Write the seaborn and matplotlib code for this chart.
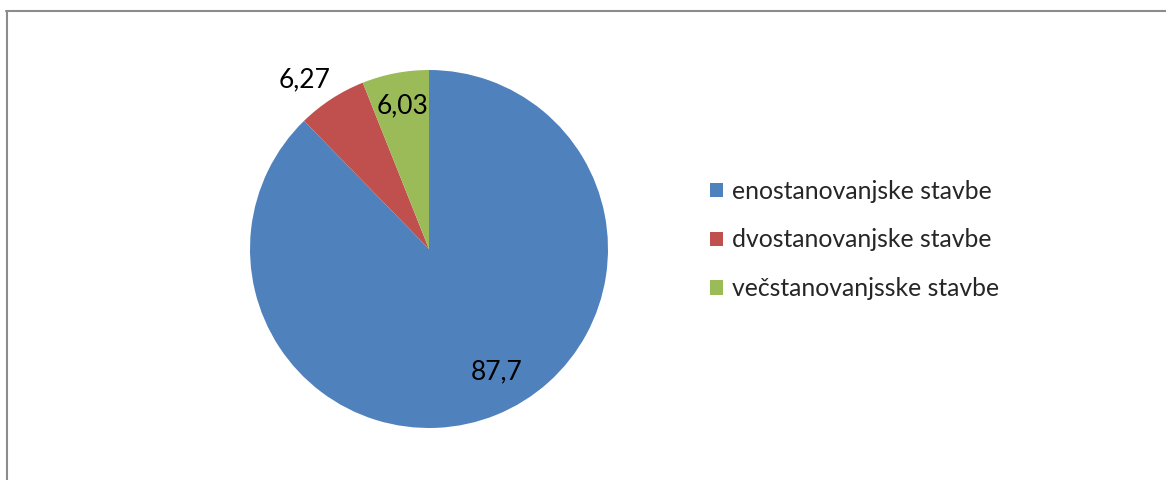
import matplotlib
matplotlib.use("Agg")
import matplotlib.pyplot as plt
from matplotlib.lines import Line2D
import seaborn as sns

# podatki
categories = ["enostanovanjske stavbe", "dvostanovanjske stavbe", "večstanovanjsske stavbe"]
values = [87.7, 6.27, 6.03]
value_labels = ["87,7", "6,27", "6,03"]
colors = ["#4F81BD", "#C0504D", "#9BBB59"]

sns.set_theme(style="white")
plt.rcParams["font.family"] = ["Lato", "DejaVu Sans"]

fig = plt.figure(figsize=(11.66, 4.8), dpi=100)
ax = fig.add_axes([250 / 1166, 52 / 480, 358 / 1166, 358 / 480])

wedges, _ = ax.pie(values, colors=colors, startangle=90, counterclock=False,
                   radius=1.0, wedgeprops=dict(linewidth=0))
ax.set_xlim(-1, 1)
ax.set_ylim(-1, 1)
ax.set_aspect("equal")
ax.axis("off")

# oznake vrednosti (pozicije kot v Excelu)
label_pos = [(0.380, -0.687), (-0.693, 0.945), (-0.145, 0.800)]
for (x, y), txt in zip(label_pos, value_labels):
    ax.text(x, y, txt, ha="center", va="center", fontsize=19, color="black")

leg = fig.legend(wedges, categories, loc="center left",
                 bbox_to_anchor=(710 / 1166, 1 - 240 / 480),
                 frameon=False, fontsize=17.8, handlelength=0.52, handleheight=0.52,
                 handletextpad=0.38, labelspacing=1.05, borderaxespad=0,
                 borderpad=0)

# okvir grafikona (zgoraj in levo)
fig.add_artist(Line2D([6 / 1166, 1], [1 - 11 / 480, 1 - 11 / 480],
                      transform=fig.transFigure, color="#8c8c8c", linewidth=1.5))
fig.add_artist(Line2D([7 / 1166, 7 / 1166], [0, 1 - 11 / 480],
                      transform=fig.transFigure, color="#8c8c8c", linewidth=1.5))

fig.savefig("out.png", dpi=100, facecolor="white")
